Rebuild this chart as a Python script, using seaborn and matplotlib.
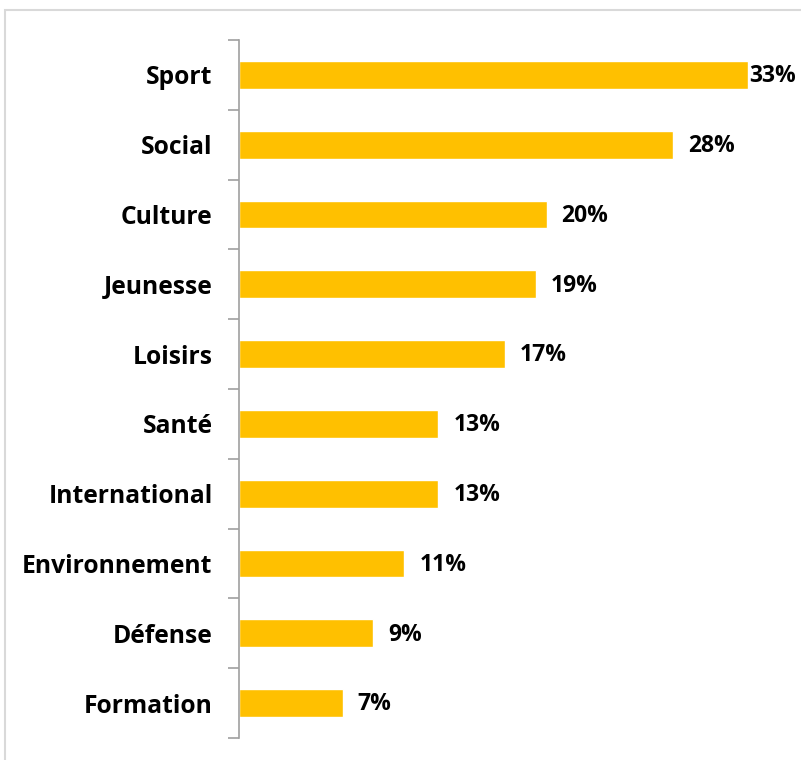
import pandas as pd
import numpy as np
import seaborn as sns
import matplotlib.pyplot as plt
from matplotlib.patches import Rectangle

categories = ["Sport", "Social", "Culture", "Jeunesse", "Loisirs", "Santé",
              "International", "Environnement", "Défense", "Formation"]
values = [32.9, 28.1, 19.9, 19.2, 17.2, 12.9, 12.9, 10.7, 8.7, 6.7]
labels = ["33%", "28%", "20%", "19%", "17%", "13%", "13%", "11%", "9%", "7%"]

df = pd.DataFrame({"cat": categories, "val": values})

sns.set_style("white")
plt.rcParams['font.family'] = ['Open Sans', 'DejaVu Sans']

fig = plt.figure(figsize=(8.01, 7.6), dpi=100)
ax = fig.add_axes([239/801, 1 - 738/760, (780 - 239)/801, (738 - 40)/760])

sns.barplot(data=df, x="val", y="cat", color="#FFC000", saturation=1,
            width=0.4, ax=ax)

ax.set_xlim(0, 35)
ax.set_ylim(len(categories) - 0.5, -0.5)
ax.set_xlabel("")
ax.set_ylabel("")
ax.set_xticks([])

for s in ["top", "right", "bottom"]:
    ax.spines[s].set_visible(False)
ax.spines["left"].set_color("#a0a0a0")
ax.spines["left"].set_linewidth(1.2)

ax.tick_params(axis="y", which="major", length=0, pad=19)
ax.set_yticks(np.arange(-0.5, len(categories), 1), minor=True)
ax.tick_params(axis="y", which="minor", left=True, length=8, width=1.2,
               color="#a0a0a0", direction="out")
for t in ax.get_yticklabels():
    t.set_fontsize(17.7)
    t.set_fontweight("bold")
    t.set_color("black")

bars = ax.containers[0]
for i, (rect, lab) in enumerate(zip(bars, labels)):
    pad = 2 if i == 0 else 15
    ax.annotate(lab, (rect.get_width(), rect.get_y() + rect.get_height() / 2),
                xytext=(pad * 0.72, -1), textcoords="offset points",
                ha="left", va="center", fontsize=16.5, fontweight="bold",
                color="black", annotation_clip=False)

fig.add_artist(Rectangle((5/801, -0.1), 2, 1.1 - 10/760, transform=fig.transFigure,
                         fill=False, edgecolor="#d9d9d9", linewidth=1.5))

fig.savefig("out.png", dpi=100)
